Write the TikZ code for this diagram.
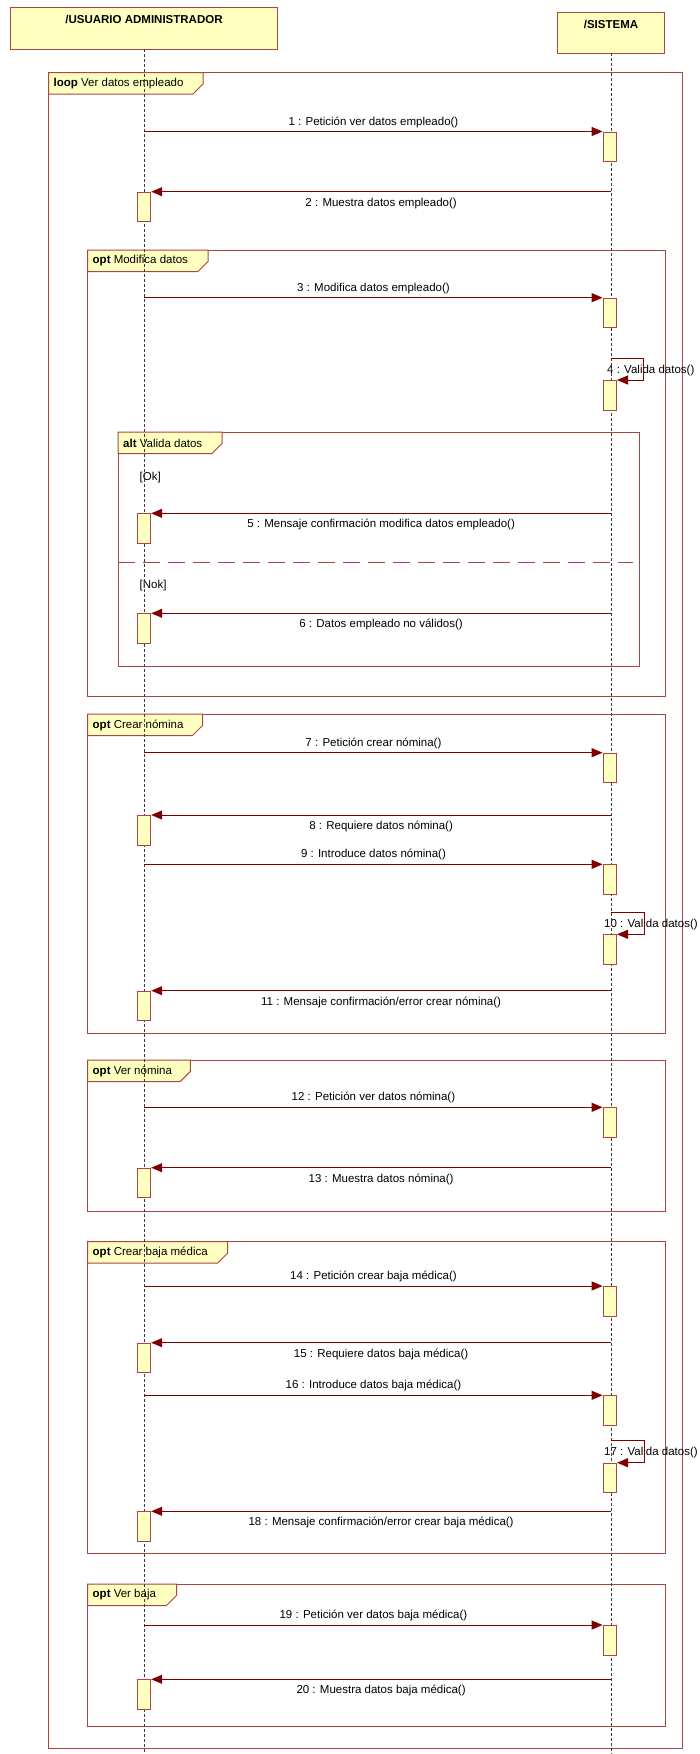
\documentclass[tikz,border=0pt]{standalone}
\usepackage{fontspec}
\setmainfont{Liberation Sans}
\usetikzlibrary{arrows.meta}
\definecolor{fr}{RGB}{170,70,70}
\definecolor{ar}{RGB}{128,0,0}
\definecolor{yl}{RGB}{255,255,192}
\definecolor{ll}{RGB}{60,60,60}
\newcommand\umlfrm[7]{%
  \draw[frame] (#1,#2) rectangle (#3,#4);
  \draw[tab] (#1,#2) -- (#5,#2) -- (#5,#2+11.5) -- (#5-10,#2+21.5) -- (#1,#2+21.5) -- cycle;
  \node[lbl, anchor=west] at (#1+5,#2+11) {\textbf{#6} #7};
}
\begin{document}
\begin{tikzpicture}[x=1pt,y=-1pt,
  font=\fontsize{11.5}{13}\selectfont,
  frame/.style={draw=fr, line width=1pt},
  tab/.style={draw=fr, fill=yl, line width=1pt},
  actor/.style={draw=fr, fill=yl, line width=1pt, inner sep=0pt, anchor=north west},
  act/.style={draw=fr, fill=yl, line width=0.9pt, minimum width=13.5pt, minimum height=29.5pt, inner sep=0pt, anchor=north},
  msg/.style={draw=ar, line width=1pt, -{Triangle[length=11pt,width=9pt]}},
  lifeline/.style={draw=ll, line width=0.9pt, dash pattern=on 3pt off 2pt},
  lbl/.style={inner sep=0pt, text=black},
  fwd/.style={lbl, midway, yshift=9.5pt},
  bwd/.style={lbl, midway, yshift=-11.5pt},
]
\useasboundingbox (0,0) rectangle (700,1754);

% actors
\node[actor, minimum width=267pt, minimum height=42pt] (ua) at (10,7) {};
\node[lbl, font=\fontsize{11.5}{13}\selectfont\bfseries] (uat) at ([yshift=-12pt]ua.north) {/USUARIO ADMINISTRADOR};
\node[actor, minimum width=107pt, minimum height=41pt] (sa) at (557,12) {};
\node[lbl, font=\fontsize{11.5}{13}\selectfont\bfseries] (sat) at ([yshift=-12pt]sa.north) {/SISTEMA};

% frames
\umlfrm{48.5}{72.5}{682}{1748}{203}{loop}{Ver datos empleado}
\umlfrm{87.5}{250}{665.5}{696}{208}{opt}{Modifica datos}
\umlfrm{118}{432}{639.5}{666}{222}{alt}{Valida datos}
\umlfrm{87.5}{714}{665}{1033.3}{202.5}{opt}{Crear nómina}
\umlfrm{87.5}{1060}{665}{1211.3}{190.4}{opt}{Ver nómina}
\umlfrm{87.5}{1241.7}{665.5}{1553.7}{227.5}{opt}{Crear baja médica}
\umlfrm{87.5}{1584}{665.5}{1726.7}{176.5}{opt}{Ver baja}

% alt separator and guards
\coordinate (sepL) at (118,562.3);
\coordinate (sepR) at (633.3,562.3);
\draw[draw=fr, line width=1pt, dash pattern=on 17pt off 8pt] (sepL) -- (sepR);
\node[lbl, anchor=west] (gok) at (139.5,478) {[Ok]};
\node[lbl, anchor=west] (gnok) at (139.5,585.7) {[Nok]};

% self-message labels (under lifelines)
\node[lbl, anchor=west] (l4) at (607,370.5) {4 : Valida datos()};
\node[lbl, anchor=west] (l10) at (604,924.3) {10 : Valida datos()};
\node[lbl, anchor=west] (l17) at (604,1452.3) {17 : Valida datos()};

% lifelines
\coordinate (uend) at (144.3,1754);
\coordinate (send) at (611,1754);
\draw[lifeline] (144.3,49) -- (uend);
\draw[lifeline] (611,53) -- (send);

% 1
\coordinate (u1) at (144.3,131.5);
\node[act] (s1) at (609.8,131.5) {};
\draw[msg] (u1) -- (s1.north west) node[fwd] {1 : Petición ver datos empleado()};
% 2
\coordinate (s2) at (611,191.7);
\node[act] (u2) at (144,191.7) {};
\draw[msg] (s2) -- (u2.north east) node[bwd] {2 : Muestra datos empleado()};
% 3
\coordinate (u3) at (144.3,297.7);
\node[act] (s3) at (609.8,297.7) {};
\draw[msg] (u3) -- (s3.north west) node[fwd] {3 : Modifica datos empleado()};
% 4
\node[act] (s4) at (609.8,380) {};
\coordinate (s4a) at (611,358.3);
\draw[msg] (s4a) -- ++(32,0) |- (s4.north east);
% 5
\coordinate (s5) at (611,513.3);
\node[act] (u5) at (144,513.3) {};
\draw[msg] (s5) -- (u5.north east) node[bwd] {5 : Mensaje confirmación modifica datos empleado()};
% 6
\coordinate (s6) at (611,613.3);
\node[act] (u6) at (144,613.3) {};
\draw[msg] (s6) -- (u6.north east) node[bwd] {6 : Datos empleado no válidos()};
% 7
\coordinate (u7) at (144.3,752.7);
\node[act] (s7) at (609.8,752.7) {};
\draw[msg] (u7) -- (s7.north west) node[fwd] {7 : Petición crear nómina()};
% 8
\coordinate (s8) at (611,815);
\node[act] (u8) at (144,815) {};
\draw[msg] (s8) -- (u8.north east) node[bwd] {8 : Requiere datos nómina()};
% 9
\coordinate (u9) at (144.3,864.3);
\node[act] (s9) at (609.8,864.3) {};
\draw[msg] (u9) -- (s9.north west) node[fwd] {9 : Introduce datos nómina()};
% 10
\node[act] (s10) at (609.8,934.3) {};
\coordinate (s10a) at (611,912.3);
\draw[msg] (s10a) -- ++(33,0) |- (s10.north east);
% 11
\coordinate (s11) at (611,990.7);
\node[act] (u11) at (144,990.7) {};
\draw[msg] (s11) -- (u11.north east) node[bwd] {11 : Mensaje confirmación/error crear nómina()};
% 12
\coordinate (u12) at (144.3,1107.3);
\node[act] (s12) at (609.8,1107.3) {};
\draw[msg] (u12) -- (s12.north west) node[fwd] {12 : Petición ver datos nómina()};
% 13
\coordinate (s13) at (611,1167.7);
\node[act] (u13) at (144,1167.7) {};
\draw[msg] (s13) -- (u13.north east) node[bwd] {13 : Muestra datos nómina()};
% 14
\coordinate (u14) at (144.3,1286);
\node[act] (s14) at (609.8,1286) {};
\draw[msg] (u14) -- (s14.north west) node[fwd] {14 : Petición crear baja médica()};
% 15
\coordinate (s15) at (611,1342.7);
\node[act] (u15) at (144,1342.7) {};
\draw[msg] (s15) -- (u15.north east) node[bwd] {15 : Requiere datos baja médica()};
% 16
\coordinate (u16) at (144.3,1395.3);
\node[act] (s16) at (609.8,1395.3) {};
\draw[msg] (u16) -- (s16.north west) node[fwd] {16 : Introduce datos baja médica()};
% 17
\node[act] (s17) at (609.8,1462.7) {};
\coordinate (s17a) at (611,1440.7);
\draw[msg] (s17a) -- ++(33,0) |- (s17.north east);
% 18
\coordinate (s18) at (611,1511.3);
\node[act] (u18) at (144,1511.3) {};
\draw[msg] (s18) -- (u18.north east) node[bwd] {18 : Mensaje confirmación/error crear baja médica()};
% 19
\coordinate (u19) at (144.3,1625);
\node[act] (s19) at (609.8,1625) {};
\draw[msg] (u19) -- (s19.north west) node[fwd] {19 : Petición ver datos baja médica()};
% 20
\coordinate (s20) at (611,1679.3);
\node[act] (u20) at (144,1679.3) {};
\draw[msg] (s20) -- (u20.north east) node[bwd] {20 : Muestra datos baja médica()};
\end{tikzpicture}
\end{document}
